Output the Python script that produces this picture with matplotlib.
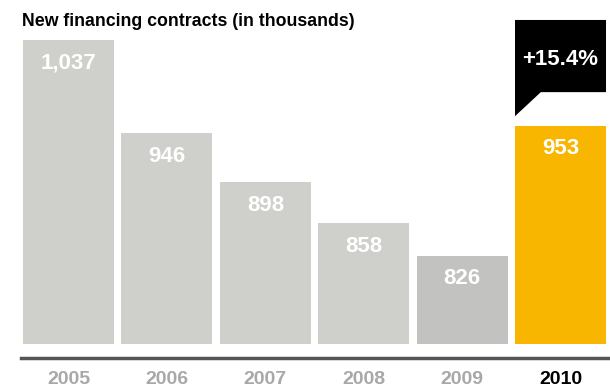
import matplotlib.pyplot as plt
from matplotlib.patches import Polygon

years = ['2005', '2006', '2007', '2008', '2009', '2010']
contracts = [1037, 946, 898, 858, 826, 953]
value_labels = ['1,037', '946', '898', '858', '826', '953']
bar_colors = ['#cfcfcb', '#cfcfcb', '#cfcfcb', '#cfcfcb', '#c2c2c0', '#f8b600']
growth_label = '+15.4%'

plt.rcParams['font.family'] = ['Liberation Sans Narrow', 'Liberation Sans', 'DejaVu Sans']

W, H = 610, 392
fig = plt.figure(figsize=(W / 100, H / 100), dpi=100)
# axes spans from baseline (y=358 px) to the top, x from 21 px to 610 px
ax = fig.add_axes([21 / W, (H - 358) / H, 1 - 21 / W, 358 / H])

base = 740
width = 0.925
x = list(range(len(years)))
ax.bar(x, [v - base for v in contracts], bottom=base, width=width,
       color=bar_colors, linewidth=0)

ax.set_xlim(-0.483, 5.503)
ax.set_ylim(726.3, 1076)

for xi, v, lab in zip(x, contracts, value_labels):
    ax.annotate(lab, (xi, v), xytext=(0, -9), textcoords='offset points',
                ha='center', va='top', color='white', fontsize=16,
                fontweight='bold')

# callout above the 2010 bar
left = 5 - width / 2
right = 5 + width / 2
box_top, box_bottom, tip = 1056.5, 986, 962.5
ax.add_patch(Polygon([(left, box_top), (right, box_top), (right, box_bottom),
                      (4.80, box_bottom), (left, tip)], closed=True,
                     facecolor='black', edgecolor='none', clip_on=False))
ax.text(5, (box_top + box_bottom) / 2 - 3, growth_label, ha='center', va='center',
        color='white', fontsize=16, fontweight='bold')

for s in ['top', 'right', 'left']:
    ax.spines[s].set_visible(False)
ax.spines['bottom'].set_color('#555555')
ax.spines['bottom'].set_linewidth(2.5)
ax.set_yticks([])
ax.set_xticks(x)
ax.set_xticklabels(years, fontsize=14, fontweight='bold')
ax.tick_params(axis='x', length=0, pad=9)
for t in ax.get_xticklabels():
    t.set_color('#a8a8a8')
ax.get_xticklabels()[-1].set_color('black')

fig.text(22 / W, 1 - 21 / H, 'New financing contracts (in thousands)',
         ha='left', va='center', fontsize=12.8, fontweight='bold', color='black')

fig.savefig('out.png', dpi=100)
